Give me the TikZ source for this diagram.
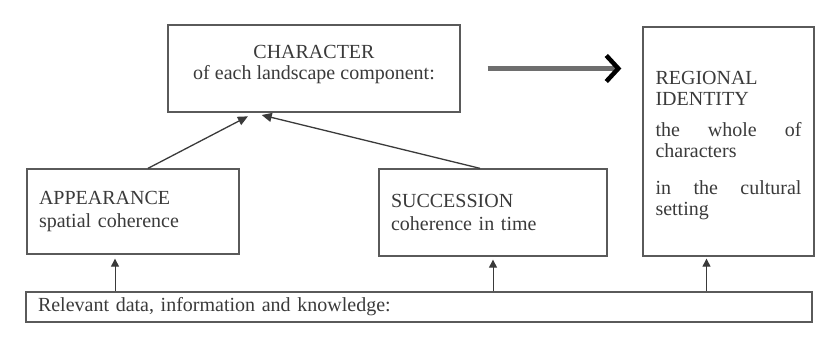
\documentclass[tikz,border=0pt]{standalone}
\usepackage{fontspec}
\setmainfont{Liberation Serif}
\usetikzlibrary{arrows.meta,calc}
\definecolor{ink}{HTML}{3A3A3A}
\definecolor{frame}{HTML}{5A5A5A}
\definecolor{shaft}{HTML}{6E6E6E}
\tikzset{
  panel/.style={draw=frame, line width=1.3pt, inner sep=0pt, text=ink,
    font=\fontsize{20}{23}\selectfont},
  textonly/.style={inner sep=0pt, text=ink, font=\fontsize{20}{21}\selectfont},
  feed/.style={draw=ink, line width=1pt, -{Triangle[length=8pt,width=8pt]}},
  lean/.style={draw=ink, line width=1.3pt, -{Triangle[length=10pt,width=9pt]}},
  bigarrow/.style={draw=shaft, line width=5.5pt,
    -{Straight Barb[length=12pt,width=26pt,line width=4.5pt,color=black]}}
}
\newcommand{\spreadline}[1]{\leavevmode\makebox[146pt][l]{#1}}
\begin{document}
\begin{tikzpicture}[x=1pt,y=-1pt]
  \useasboundingbox (0,0) rectangle (828,337);

  % frames
  \node[panel, minimum width=292pt, minimum height=87pt] (char) at (314,68.5) {};
  \node[panel, minimum width=171pt, minimum height=229pt] (region) at (728.5,141.5) {};
  \node[panel, minimum width=212pt, minimum height=85pt, text width=188pt, align=left]
    (app) at (133,211.5) {APPEARANCE\\spatial coherence};
  \node[panel, minimum width=228pt, minimum height=87pt, text width=204pt, align=left]
    (succ) at (493,212.5) {SUCCESSION\\coherence in time};
  \node[panel, minimum width=786pt, minimum height=30pt, text width=762pt, align=left]
    (data) at (419,307) {Relevant data, information and knowledge:};

  % texts inside the two upper frames
  \node[textonly, align=center] (chartext) at ([yshift=4pt]char.center)
    {CHARACTER\\of each landscape component:};
  \node[textonly, text width=146pt, align=left] (regtext) at ([yshift=-4pt]region.center)
    {REGIONAL\\IDENTITY\\[10pt]\spreadline{the\hfill whole\hfill of}\\characters\\[16pt]\spreadline{in\hfill the\hfill cultural}\\setting};

  % connectors
  \draw[bigarrow, shorten <=27pt, shorten >=21pt] (char.east) -- (char.east -| region.west);
  \draw[lean, shorten >=8pt] ([xshift=15pt]app.north) -- ([xshift=-59pt]char.south);
  \draw[lean, shorten >=10pt] ([xshift=-13pt]succ.north) -- ([xshift=-62pt]char.south);
  \draw[feed, shorten >=4pt] ([xshift=-18pt]app.south |- data.north) -- ([xshift=-18pt]app.south);
  \draw[feed, shorten >=3pt] (succ.south |- data.north) -- (succ.south);
  \draw[feed, shorten >=2pt] ([xshift=-22pt]region.south |- data.north) -- ([xshift=-22pt]region.south);
\end{tikzpicture}
\end{document}
